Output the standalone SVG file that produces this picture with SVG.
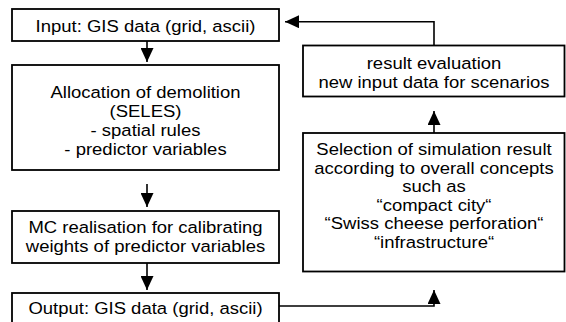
<svg xmlns="http://www.w3.org/2000/svg" width="566" height="322" viewBox="0 0 566 322">
<style>
.box{fill:#fff;stroke:#000;stroke-width:1.8}
.t{font-family:"Liberation Sans",Arial,sans-serif;font-size:17px;fill:#000;text-anchor:middle}
.c{fill:none;stroke:#000;stroke-width:1.6}
</style>
<defs>
<marker id="ah" markerUnits="userSpaceOnUse" markerWidth="15" markerHeight="13" refX="14" refY="6.5" orient="auto">
<path d="M0,0 L14,6.5 L0,13 Z" fill="#000"/>
</marker>
</defs>
<rect width="566" height="322" fill="#fff"/>
<g id="connectors">
<path class="c" d="M147,41 V62" marker-end="url(#ah)"/>
<path class="c" d="M147,184 V207" marker-end="url(#ah)"/>
<path class="c" d="M147,263 V290" marker-end="url(#ah)"/>
<path class="c" d="M279,306 H434 V290" marker-end="url(#ah)"/>
<path class="c" d="M434,133 V111" marker-end="url(#ah)"/>
<path class="c" d="M434,45.5 V21.7 H285" marker-end="url(#ah)"/>
</g>
<g id="input">
<rect class="box" x="12" y="9" width="267" height="32"/>
<text class="t" transform="translate(145.5 31.5) scale(1.088 1)">Input: GIS data (grid, ascii)</text>
</g>
<g id="allocation">
<rect class="box" x="12" y="65" width="267" height="105"/>
<text class="t" transform="translate(145.5 97.5) scale(1.088 1)">Allocation of demolition</text>
<text class="t" transform="translate(145.5 116.5) scale(1.088 1)">(SELES)</text>
<text class="t" transform="translate(145.5 135.5) scale(1.088 1)">- spatial rules</text>
<text class="t" transform="translate(145.5 154.5) scale(1.088 1)">- predictor variables</text>
</g>
<g id="mc">
<rect class="box" x="12" y="211" width="267" height="52"/>
<text class="t" transform="translate(145.5 232.5) scale(1.088 1)">MC realisation for calibrating</text>
<text class="t" transform="translate(145.5 251.5) scale(1.088 1)">weights of predictor variables</text>
</g>
<g id="output">
<rect class="box" x="12" y="293" width="267" height="32"/>
<text class="t" transform="translate(145.5 313.5) scale(1.088 1)">Output: GIS data (grid, ascii)</text>
</g>
<g id="evaluation">
<rect class="box" x="303" y="45.5" width="261.5" height="51"/>
<text class="t" transform="translate(434 69) scale(1.088 1)">result evaluation</text>
<text class="t" transform="translate(434 88) scale(1.088 1)">new input data for scenarios</text>
</g>
<g id="selection">
<rect class="box" x="303" y="133" width="261.5" height="138.5"/>
<text class="t" transform="translate(434 155) scale(1.088 1)">Selection of simulation result</text>
<text class="t" transform="translate(434 173.5) scale(1.088 1)">according to overall concepts</text>
<text class="t" transform="translate(434 192) scale(1.088 1)">such as</text>
<text class="t" transform="translate(434 210.5) scale(1.088 1)">“compact city“</text>
<text class="t" transform="translate(434 229) scale(1.088 1)">“Swiss cheese perforation“</text>
<text class="t" transform="translate(434 247.5) scale(1.088 1)">“infrastructure“</text>
</g>
</svg>
